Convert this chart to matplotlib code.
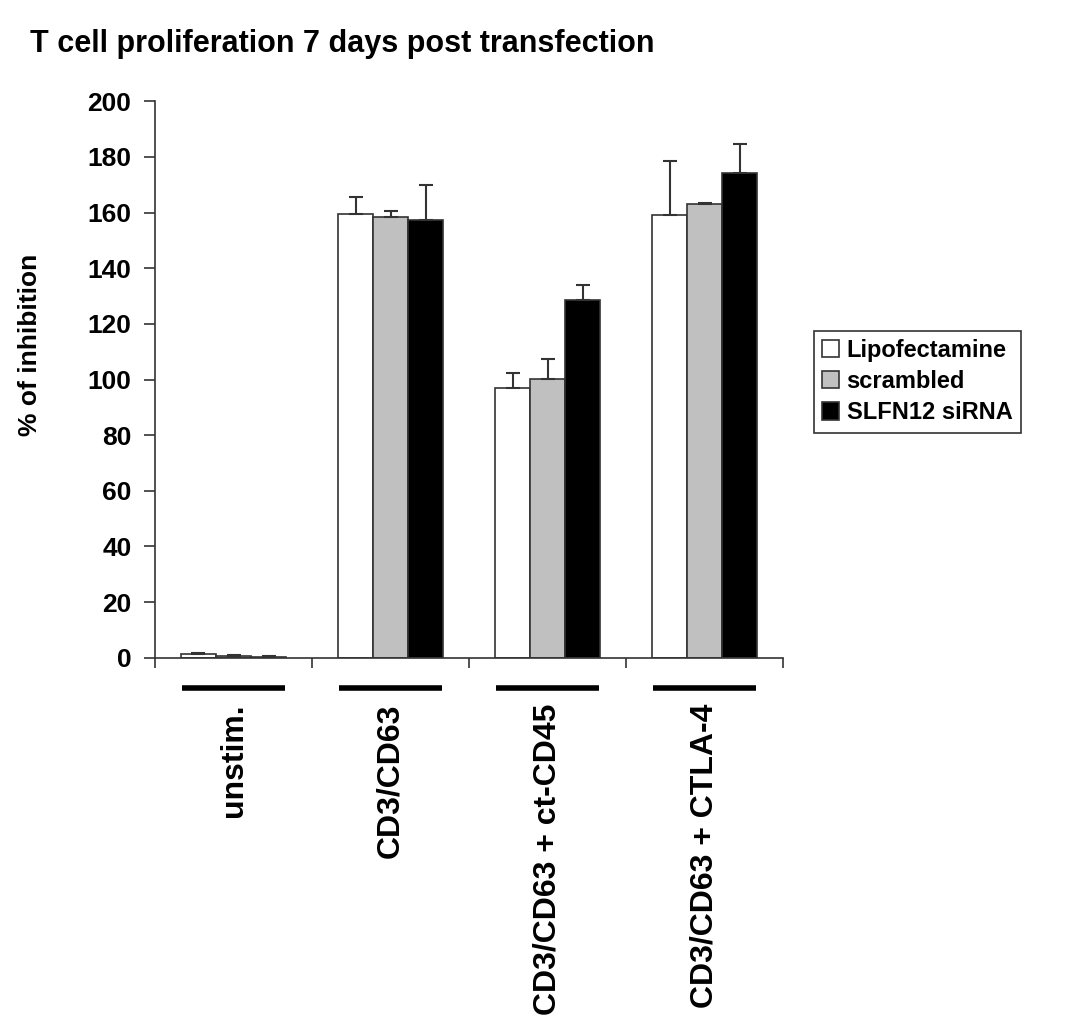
import matplotlib.pyplot as plt
import numpy as np

plt.rcParams['font.family'] = ['Liberation Sans', 'DejaVu Sans']
plt.rcParams['font.weight'] = 'bold'

categories = ['unstim.', 'CD3/CD63', 'CD3/CD63 + ct-CD45', 'CD3/CD63 + CTLA-4']
series = ['Lipofectamine', 'scrambled', 'SLFN12 siRNA']
lipofectamine = [1.2, 159.5, 96.8, 159.0]
lipofectamine_err = [0.5, 6.0, 5.5, 19.5]
scrambled = [0.6, 158.5, 100.2, 163.0]
scrambled_err = [0.5, 2.0, 7.0, 0.6]
slfn12 = [0.3, 157.5, 128.6, 174.2]
slfn12_err = [0.2, 12.5, 5.2, 10.5]

colors = ['white', '#c0c0c0', 'black']
values = [lipofectamine, scrambled, slfn12]
errors = [lipofectamine_err, scrambled_err, slfn12_err]

fig = plt.figure(figsize=(10.69, 10.23), dpi=100)
ax = fig.add_axes([0.145, 0.357, 0.5875, 0.544])

x = np.arange(len(categories))
w = 0.223
for i in range(3):
    pos = x + (i - 1) * w
    ax.bar(pos, values[i], w, color=colors[i], edgecolor='#333333', linewidth=1.2,
           label=series[i], zorder=2)
    ax.errorbar(pos, values[i], yerr=[np.zeros(4), errors[i]], fmt='none',
                ecolor='#333333', elinewidth=1.5, capsize=5, capthick=1.5, zorder=3)

ax.set_xlim(-0.5, 3.5)
ax.set_ylim(0, 200)
ax.set_yticks(range(0, 201, 20))
ax.set_xticks(np.arange(-0.5, 3.6, 1.0))
ax.set_xticklabels([])
ax.set_xticks(x, minor=True)
ax.set_xticklabels(categories, minor=True, rotation=90, fontsize=23, fontweight='bold',
                   va='top', ha='center')
ax.tick_params(axis='x', which='minor', length=0, pad=33)
ax.tick_params(axis='x', which='major', length=7, width=1.2, color='#333333')
ax.tick_params(axis='y', length=8, width=1.2, color='#333333', labelsize=19, pad=9)
for lbl in ax.get_yticklabels():
    lbl.set_fontweight('bold')

for s in ['top', 'right']:
    ax.spines[s].set_visible(False)
for s in ['left', 'bottom']:
    ax.spines[s].set_color('#333333')
    ax.spines[s].set_linewidth(1.2)

# black underline below each category
for xi in x:
    ax.plot([xi - 0.33, xi + 0.33], [-11, -11], color='black', linewidth=4,
            clip_on=False, solid_capstyle='butt')

ax.set_ylabel('% of inhibition', fontsize=19, fontweight='bold')
ax.yaxis.set_label_coords(-0.18, 0.562)
fig.text(0.028, 0.957, 'T cell proliferation 7 days post transfection',
         fontsize=22, fontweight='bold', va='center', ha='left')

leg = ax.legend(loc='center left', bbox_to_anchor=(0.761, 0.627),
                bbox_transform=fig.transFigure, fontsize=17, frameon=True,
                fancybox=False, handlelength=0.75, handleheight=0.75,
                handletextpad=0.3, borderpad=0.35, labelspacing=0.35,
                borderaxespad=0)
leg.get_frame().set_edgecolor('black')
leg.get_frame().set_linewidth(1.2)
for t in leg.get_texts():
    t.set_fontweight('bold')

fig.savefig('out.png', dpi=100)
